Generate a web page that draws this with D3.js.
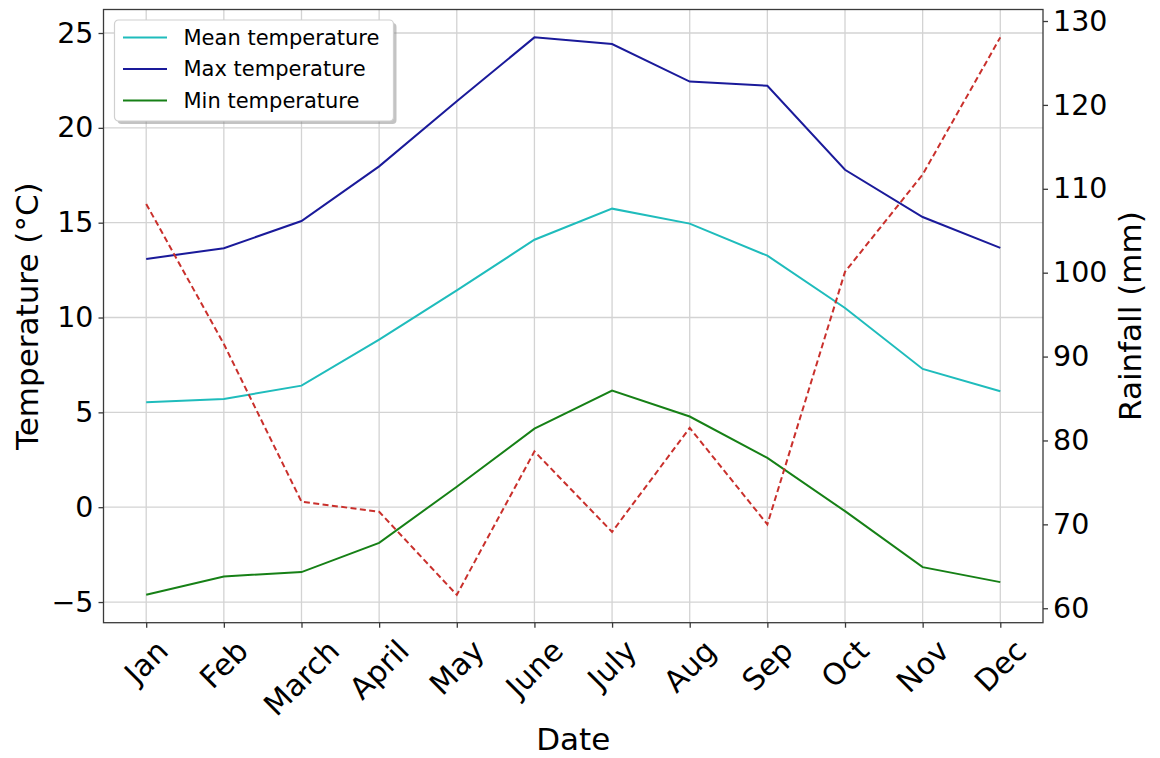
<!DOCTYPE html>
<html>
<head>
<meta charset="utf-8">
<script src="https://cdn.jsdelivr.net/npm/d3@7"></script>
<style>
  body { margin: 0; background: #fff; }
  text { font-family: "DejaVu Sans", sans-serif; fill: #000; }
</style>
</head>
<body>
<div id="chart"></div>
<script>
// Monthly climate data
const months = ["Jan", "Feb", "March", "April", "May", "June", "July", "Aug", "Sep", "Oct", "Nov", "Dec"];
const meanTemp = [5.53, 5.71, 6.41, 8.84, 11.43, 14.1, 15.74, 14.95, 13.26, 10.5, 7.29, 6.11];
const maxTemp = [13.09, 13.65, 15.09, 17.97, 21.4, 24.77, 24.42, 22.44, 22.22, 17.79, 15.3, 13.67];
const minTemp = [-4.62, -3.65, -3.42, -1.88, 1.08, 4.14, 6.15, 4.78, 2.6, -0.21, -3.16, -3.95];
const rainfall = [108.2, 91.5, 72.7, 71.5, 61.6, 78.7, 69.1, 81.5, 70.0, 100.1, 111.7, 128.05];
const tempTicks = [-5, 0, 5, 10, 15, 20, 25];
const rainTicks = [60, 70, 80, 90, 100, 110, 120, 130];

const width = 1160;
const height = 758;
const plotL = 103.5, plotR = 1043, plotT = 9.5, plotB = 622.7;

const svg = d3.select("#chart")
    .append("svg")
    .attr("width", width)
    .attr("height", height);

// pad the data range by 5% on each side, like matplotlib does
function padded(values) {
    const [lo, hi] = d3.extent(values);
    const m = (hi - lo) * 0.05;
    return [lo - m, hi + m];
}

const x = d3.scalePoint().domain(months).range([plotL, plotR]).padding(0.55);
const yT = d3.scaleLinear()
    .domain(padded(meanTemp.concat(maxTemp, minTemp)))
    .range([plotB, plotT]);
const yR = d3.scaleLinear().domain(padded(rainfall)).range([plotB, plotT]);

// grid
const grid = svg.append("g");
grid.selectAll(".gx").data(months).enter().append("line")
    .attr("x1", d => x(d)).attr("x2", d => x(d))
    .attr("y1", plotT).attr("y2", plotB)
    .attr("stroke", "#d3d3d3").attr("stroke-width", 1.3);
grid.selectAll(".gy").data(tempTicks).enter().append("line")
    .attr("x1", plotL).attr("x2", plotR)
    .attr("y1", d => yT(d)).attr("y2", d => yT(d))
    .attr("stroke", "#d3d3d3").attr("stroke-width", 1.3);

// temperature lines
const series = [
    { name: "Mean temperature", values: meanTemp, color: "#1fbcbc" },
    { name: "Max temperature", values: maxTemp, color: "#1a1a9a" },
    { name: "Min temperature", values: minTemp, color: "#168016" }
];
const lineT = d3.line().x((d, i) => x(months[i])).y(d => yT(d));
series.forEach(s => {
    svg.append("path")
        .datum(s.values)
        .attr("d", lineT)
        .attr("fill", "none")
        .attr("stroke", s.color)
        .attr("stroke-width", 2);
});

// rainfall on the twin axis
const lineR = d3.line().x((d, i) => x(months[i])).y(d => yR(d));
svg.append("path")
    .datum(rainfall)
    .attr("d", lineR)
    .attr("fill", "none")
    .attr("stroke", "#c9302c")
    .attr("stroke-width", 2)
    .attr("stroke-dasharray", "6,3.4");

// frame
svg.append("rect")
    .attr("x", plotL).attr("y", plotT)
    .attr("width", plotR - plotL).attr("height", plotB - plotT)
    .attr("fill", "none").attr("stroke", "#3a3a3a").attr("stroke-width", 1.3);

// axes
const tickFont = 28.5;
const axL = svg.append("g")
    .attr("transform", `translate(${plotL},0)`)
    .call(d3.axisLeft(yT).tickValues(tempTicks).tickSize(5).tickPadding(5));
const axR = svg.append("g")
    .attr("transform", `translate(${plotR},0)`)
    .call(d3.axisRight(yR).tickValues(rainTicks).tickSize(5).tickPadding(5));
const axB = svg.append("g")
    .attr("transform", `translate(0,${plotB})`)
    .call(d3.axisBottom(x).tickSize(5).tickFormat(""));

[axL, axR, axB].forEach(a => {
    a.select(".domain").remove();
    a.selectAll(".tick line").attr("stroke", "#3a3a3a").attr("stroke-width", 1.3);
    a.selectAll(".tick text")
        .style("font-family", "DejaVu Sans")
        .style("font-size", tickFont + "px")
        .attr("fill", "#000");
});

// rotated month labels, bbox centred under each tick
const monthFont = 30;
const labelTop = 633;
months.forEach(m => {
    const t = svg.append("text")
        .style("font-size", monthFont + "px")
        .attr("text-anchor", "middle")
        .attr("dominant-baseline", "central")
        .text(m);
    const w = t.node().getComputedTextLength();
    const h = monthFont * 1.164;
    const cy = labelTop + (w + h) * Math.SQRT1_2 / 2;
    t.attr("x", x(m)).attr("y", cy)
        .attr("transform", `rotate(-45, ${x(m)}, ${cy})`);
});

// axis titles
const labelFont = 31;
svg.append("text")
    .attr("x", (plotL + plotR) / 2).attr("y", 750)
    .attr("text-anchor", "middle")
    .style("font-size", labelFont + "px")
    .text("Date");
svg.append("text")
    .attr("transform", `translate(38,${(plotT + plotB) / 2}) rotate(-90)`)
    .attr("text-anchor", "middle")
    .style("font-size", labelFont + "px")
    .text("Temperature (°C)");
svg.append("text")
    .attr("transform", `translate(1141,${(plotT + plotB) / 2}) rotate(-90)`)
    .attr("text-anchor", "middle")
    .style("font-size", labelFont + "px")
    .text("Rainfall (mm)");

// legend with shadow
const legend = svg.append("g").attr("transform", "translate(114.5, 20)");
legend.append("rect")
    .attr("x", 3).attr("y", 3)
    .attr("width", 279).attr("height", 101).attr("rx", 4)
    .attr("fill", "#888").attr("opacity", 0.5);
legend.append("rect")
    .attr("width", 279).attr("height", 101).attr("rx", 4)
    .attr("fill", "#fff").attr("stroke", "#d0d0d0").attr("stroke-width", 1.2);
series.forEach((s, i) => {
    const yy = 17.5 + i * 31.5;
    legend.append("line")
        .attr("x1", 8.5).attr("x2", 52.5)
        .attr("y1", yy).attr("y2", yy)
        .attr("stroke", s.color).attr("stroke-width", 2);
    legend.append("text")
        .attr("x", 69).attr("y", yy)
        .attr("dominant-baseline", "central")
        .style("font-size", "21px")
        .text(s.name);
});
</script>
</body>
</html>
